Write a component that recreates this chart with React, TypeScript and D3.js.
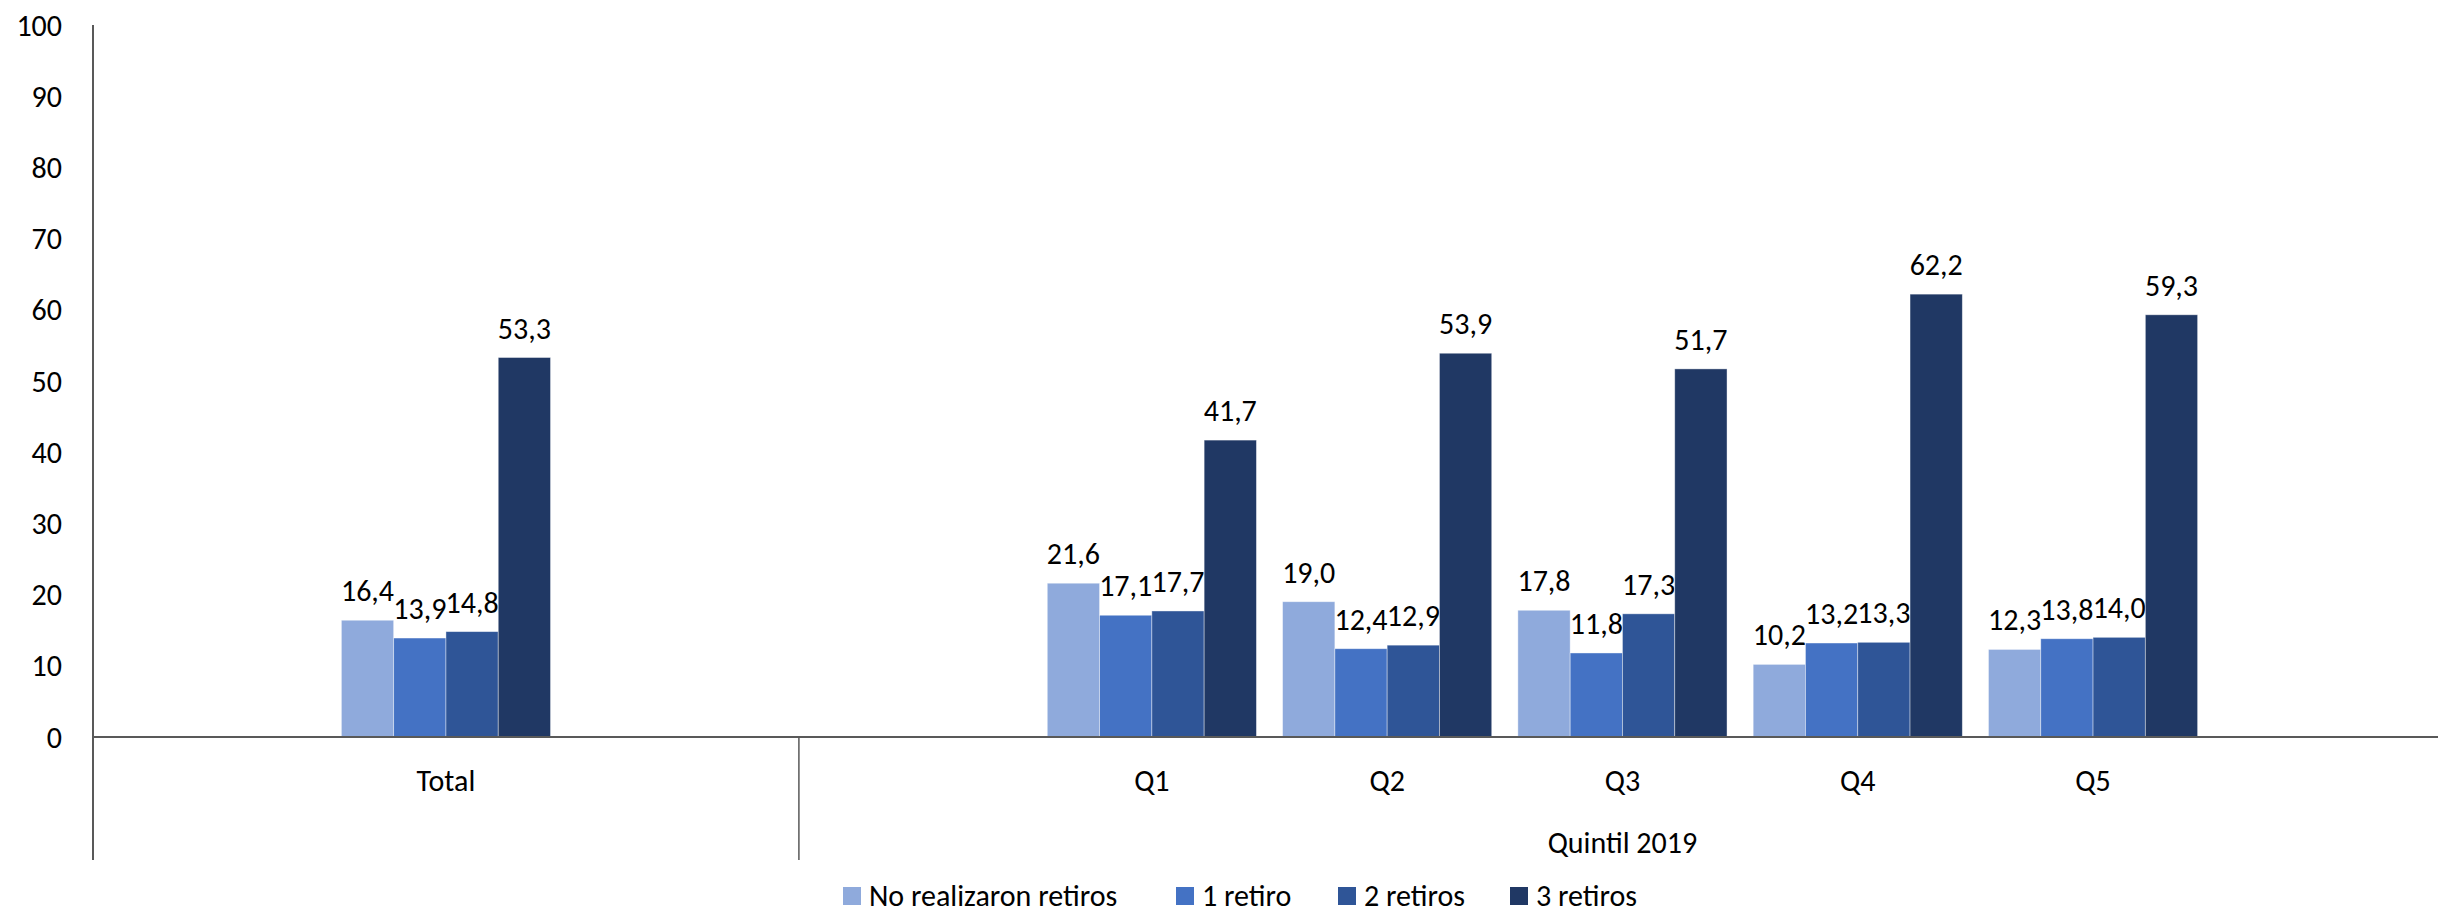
import * as d3 from "d3";

const WIDTH = 2438;
const HEIGHT = 912;
const FONT = "Carlito, Lato, 'Liberation Sans', sans-serif";
const FS = 30;

// x slots of the category axis (empty slots keep the spacing of the original)
const slots = ["s0", "Total", "s2", "s3", "Q1", "Q2", "Q3", "Q4", "Q5", "s9"];
const categories = ["Total", "Q1", "Q2", "Q3", "Q4", "Q5"];
const seriesNames = ["No realizaron retiros", "1 retiro", "2 retiros", "3 retiros"];
const seriesColors = ["#8FAADC", "#4472C4", "#2F5597", "#203864"];

const noRetiros = [16.4, 21.6, 19.0, 17.8, 10.2, 12.3];
const unRetiro = [13.9, 17.1, 12.4, 11.8, 13.2, 13.8];
const dosRetiros = [14.8, 17.7, 12.9, 17.3, 13.3, 14.0];
const tresRetiros = [53.3, 41.7, 53.9, 51.7, 62.2, 59.3];
const seriesValues = [noRetiros, unRetiro, dosRetiros, tresRetiros];

const yTicks = [0, 10, 20, 30, 40, 50, 60, 70, 80, 90, 100];

const AXIS_LEFT = 93;
const AXIS_RIGHT = 2446;
const Y_TOP = 25;
const Y_ZERO = 737;
const AXIS_BOTTOM = 860;

const fmt = (v: number) => v.toFixed(1).replace(".", ",");

export default function App() {
    const xScale = d3.scaleBand().domain(slots).range([AXIS_LEFT, AXIS_RIGHT]).padding(0);
    const inner = d3
        .scaleBand()
        .domain(seriesNames)
        .range([0, xScale.bandwidth()])
        .paddingInner(0)
        .paddingOuter(0.25);
    const yScale = d3.scaleLinear().domain([0, 100]).range([Y_ZERO, Y_TOP]);

    // separator between the "Total" block and the "Quintil 2019" block
    const sepX = xScale("s3") as number;

    const bars = categories.map((cat, ci) => {
        const x0 = xScale(cat) as number;
        return (
            <g key={cat}>
                {seriesNames.map((s, si) => {
                    const v = seriesValues[si][ci];
                    const x = x0 + (inner(s) as number);
                    return (
                        <g key={s}>
                            <rect
                                x={x}
                                y={yScale(v)}
                                width={inner.bandwidth()}
                                height={Y_ZERO - yScale(v)}
                                fill={seriesColors[si]}
                                stroke="#ffffff"
                                strokeOpacity={0.5}
                                strokeWidth={0.8}
                            />
                            <text
                                x={x + inner.bandwidth() / 2}
                                y={yScale(v) - 19}
                                textAnchor="middle"
                                fontSize={FS}
                                fill="#000"
                            >
                                {fmt(v)}
                            </text>
                        </g>
                    );
                })}
            </g>
        );
    });

    const yLabels = yTicks.map((t) => (
        <text
            key={t}
            x={62}
            y={yScale(t)}
            textAnchor="end"
            dominantBaseline="central"
            fontSize={FS}
            fill="#000"
        >
            {t}
        </text>
    ));

    const catLabels = categories.map((cat) => (
        <text
            key={cat}
            x={(xScale(cat) as number) + xScale.bandwidth() / 2}
            y={780}
            textAnchor="middle"
            dominantBaseline="central"
            fontSize={FS}
            fill="#000"
        >
            {cat}
        </text>
    ));

    const legendX = [843, 1176, 1338, 1510];

    return (
        <div style={{ position: "absolute", left: 0, top: 0 }}>
            <svg width={WIDTH} height={HEIGHT} fontFamily={FONT} style={{ display: "block" }}>
                <rect width={WIDTH} height={HEIGHT} fill="#ffffff" />
                {bars}
                {/* axes */}
                <line x1={AXIS_LEFT} x2={AXIS_LEFT} y1={Y_TOP} y2={AXIS_BOTTOM} stroke="#595959" strokeWidth={2} />
                <line x1={AXIS_LEFT} x2={WIDTH} y1={Y_ZERO} y2={Y_ZERO} stroke="#595959" strokeWidth={2} />
                <line x1={sepX} x2={sepX} y1={Y_ZERO} y2={AXIS_BOTTOM} stroke="#595959" strokeWidth={1.5} />
                {yLabels}
                {catLabels}
                <text
                    x={(sepX + AXIS_RIGHT) / 2}
                    y={842}
                    textAnchor="middle"
                    dominantBaseline="central"
                    fontSize={FS}
                    fill="#000"
                >
                    Quintil 2019
                </text>
                {/* legend */}
                {seriesNames.map((s, i) => (
                    <g key={s} transform={`translate(${legendX[i]},${895})`}>
                        <rect x={0} y={-8} width={18} height={18} fill={seriesColors[i]} />
                        <text x={26} y={0} dominantBaseline="central" fontSize={FS} fill="#000">
                            {s}
                        </text>
                    </g>
                ))}
            </svg>
        </div>
    );
}
